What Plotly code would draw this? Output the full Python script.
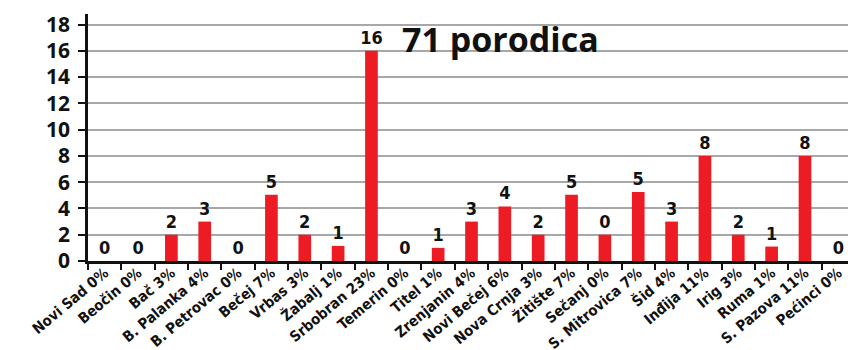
import plotly.graph_objects as go

categories = ["Novi Sad 0%", "Beočin 0%", "Bač 3%", "B. Palanka 4%", "B. Petrovac 0%",
              "Bečej 7%", "Vrbas 3%", "Žabalj 1%", "Srbobran 23%", "Temerin 0%",
              "Titel 1%", "Zrenjanin 4%", "Novi Bečej 6%", "Nova Crnja 3%", "Žitište 7%",
              "Sečanj 0%", "S. Mitrovica 7%", "Šid 4%", "Inđija 11%", "Irig 3%",
              "Ruma 1%", "S. Pazova 11%", "Pećinci 0%"]
bar_values = [0, 0, 2, 3, 0, 5.05, 2, 1.15, 16, 0, 1, 3, 4.15, 2, 5.05, 2, 5.25, 3, 8, 2, 1.1, 8, 0]
label_values = ["0", "0", "2", "3", "0", "5", "2", "1", "16", "0", "1", "3", "4", "2", "5",
                "0", "5", "3", "8", "2", "1", "8", "0"]
y_ticks = [0, 2, 4, 6, 8, 10, 12, 14, 16, 18]
headline = "71 porodica"

COND = "DejaVu Sans Condensed"

fig = go.Figure(go.Bar(
    x=categories,
    y=bar_values,
    text=label_values,
    textposition="outside",
    constraintext="none",
    textfont=dict(family=COND, size=18, color="#111111", weight="bold"),
    marker=dict(color="#ED1C24", line=dict(width=0)),
    cliponaxis=False,
))

fig.add_annotation(
    text=f"<b>{headline}</b>", xref="paper", yref="paper", x=0.41, y=1.0,
    xanchor="left", yanchor="top", showarrow=False,
    font=dict(family="Open Sans, Lato, sans-serif", size=34, color="#111111"),
)

fig.update_layout(
    width=848, height=350,
    margin=dict(l=88, r=0, t=14, b=89, autoexpand=False),
    paper_bgcolor="white", plot_bgcolor="white",
    bargap=0.62,
    showlegend=False,
    xaxis=dict(
        type="category",
        range=[-0.5, 22.29],
        tickangle=-40,
        tickson="boundaries",
        ticks="outside", ticklen=6, tickwidth=2, tickcolor="#111111",
        showgrid=False,
        showline=True, linecolor="#111111", linewidth=2.5,
        automargin=False,
        ticklabelstandoff=-5,
        tickfont=dict(family=COND, size=14.8, color="#111111", weight="bold"),
    ),
    yaxis=dict(
        range=[0, 18.8],
        tickvals=y_ticks,
        ticks="outside", ticklen=7, tickwidth=2, tickcolor="#111111",
        showgrid=True, gridcolor="#a8a8a8", gridwidth=1.5,
        showline=True, linecolor="#111111", linewidth=2.5,
        zeroline=False,
        automargin=False,
        tickfont=dict(family="Open Sans, Lato, sans-serif", size=21, color="#111111", weight="bold"),
        ticklabelstandoff=4,
    ),
)

fig.write_html("out.html")
